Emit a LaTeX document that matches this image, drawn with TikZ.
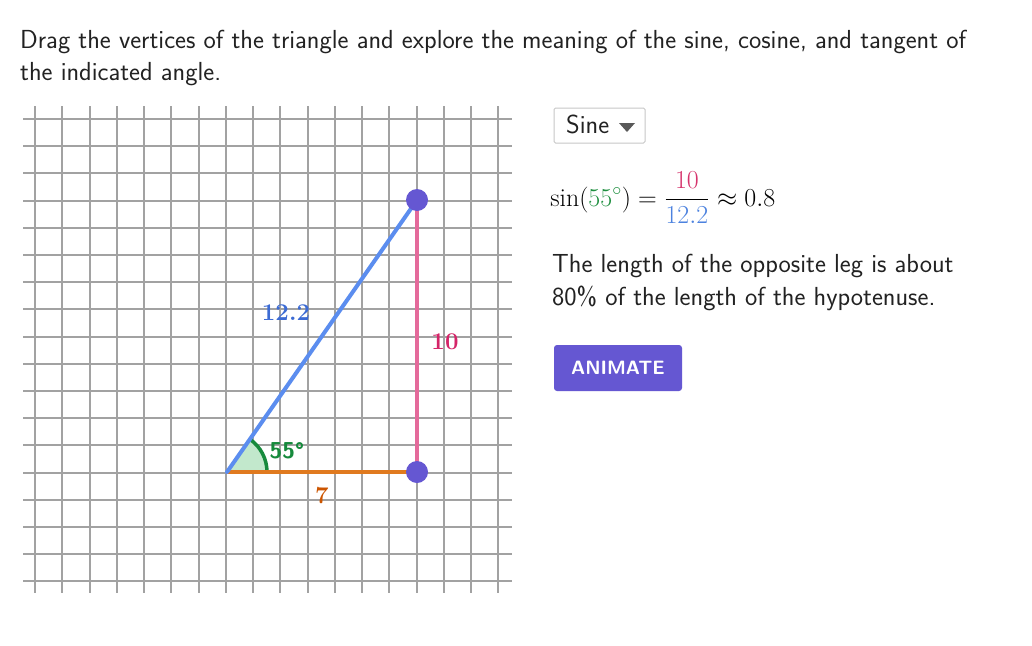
\documentclass[tikz,border=0pt]{standalone}
\usepackage{fontspec}
\usepackage{xcolor}
\definecolor{gridc}{HTML}{A2A2A2}
\definecolor{hypc}{HTML}{5B8DEF}
\definecolor{oppc}{HTML}{E46A9B}
\definecolor{adjc}{HTML}{E07A1F}
\definecolor{ptc}{HTML}{6557D2}
\definecolor{lblblue}{HTML}{3C6BD4}
\definecolor{lblpink}{HTML}{D42468}
\definecolor{lblorange}{HTML}{CC5500}
\definecolor{anggreen}{HTML}{168A3C}
\definecolor{angfill}{HTML}{C2E8CC}
\definecolor{txtc}{HTML}{222222}
\definecolor{fgreen}{HTML}{1E8F3F}
\definecolor{fpink}{HTML}{D6336C}
\definecolor{fblue}{HTML}{4C82DF}
\tikzset{
  gridline/.style={draw=gridc, line width=1.2pt},
  side/.style={line width=4pt},
  vertex/.style={circle, fill=ptc, minimum size=22pt, inner sep=0pt},
  bodytext/.style={anchor=base west, inner sep=0pt, font=\sffamily\fontsize{26.1}{30}\selectfont, text=txtc},
  sidelabel/.style={inner sep=0pt, font=\bfseries\fontsize{24}{28}\selectfont},
}
\begin{document}
\begin{tikzpicture}[x=1pt,y=-1pt]
\useasboundingbox[fill=white] (0,0) rectangle (1032,645);
% title
\node[bodytext] (t1) at (20,48.5) {Drag the vertices of the triangle and explore the meaning of the sine, cosine, and tangent of};
\node[bodytext] (t2) at (20,80) {the indicated angle.};
% grid
\foreach \i in {0,...,17} {
  \pgfmathsetmacro{\xx}{round(35+27.25*\i)}
  \draw[gridline] (\xx,106) -- (\xx,593);
}
\foreach \j in {0,...,17} {
  \pgfmathsetmacro{\yy}{round(119+27.2*\j)}
  \draw[gridline] (23,\yy) -- (512,\yy);
}
% triangle
\coordinate (A) at (227,472);
\coordinate (B) at (417,472);
\coordinate (C) at (417,200);
\coordinate (R) at (267,472);
\fill[angfill] (A) -- (R) arc[start angle=0, end angle=-55, radius=40] -- cycle;
\draw[anggreen, line width=3.5pt] (R) arc[start angle=0, end angle=-55, radius=40];
\draw[side, draw=oppc] (B) -- (C);
\draw[side, draw=adjc] (A) -- (B);
\draw[side, draw=hypc, line cap=round] (A) -- (C);
\node[vertex] (pB) at (B) {};
\node[vertex] (pC) at (C) {};
% labels
\node[sidelabel, text=lblblue] (l1) at (286,313) {12.2};
\node[sidelabel, text=lblpink] (l2) at (445,342) {10};
\node[sidelabel, text=lblorange] (l3) at (322,496) {7};
\node[sidelabel, text=anggreen, font=\sffamily\bfseries\fontsize{23}{28}\selectfont] (l4) at (287,451) {55°};
% dropdown
\draw[draw=black!22, line width=1pt, rounded corners=1.5pt, fill=white] (554,108) rectangle (645,143);
\node[bodytext] (sine) at (566,133) {Sine};
\fill[black!65] (619,123) -- (635,123) -- (627,132) -- cycle;
% formula
\node[anchor=base west, inner sep=0pt, scale=1.25, font=\fontsize{20.74}{25}\selectfont] (f) at (550,206)
  {$\displaystyle \sin(\textcolor{fgreen}{55^\circ}) = \frac{\textcolor{fpink}{10}}{\textcolor{fblue}{12.2}} \approx 0.8$};
% explanation
\node[bodytext] (e1) at (552,272) {The length of the opposite leg is about};
\node[bodytext] (e2) at (552,305) {80\% of the length of the hypotenuse.};
% button
\node[fill=ptc, rounded corners=3pt, minimum width=128pt, minimum height=46pt, inner sep=0pt,
      text=white, font=\sffamily\bfseries\fontsize{19.3}{23}\selectfont] (btn) at (618,368) {ANIMATE};
\end{tikzpicture}
\end{document}
